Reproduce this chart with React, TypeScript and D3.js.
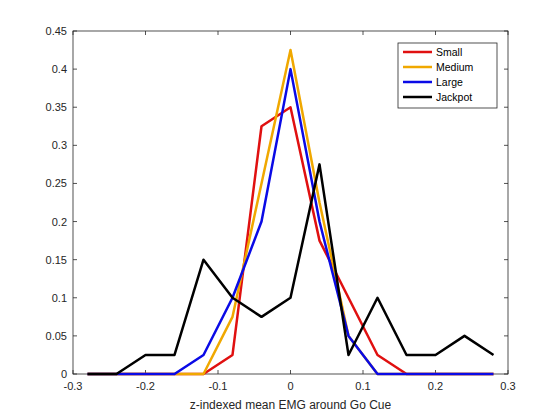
import React from "react";
import * as d3 from "d3";

const xs = [-0.28,-0.24,-0.2,-0.16,-0.12,-0.08,-0.04,0,0.04,0.08,0.12,0.16,0.2,0.24,0.28];
const small = [0,0,0,0,0,0.025,0.325,0.35,0.175,0.1,0.025,0,0,0,0];
const medium = [0,0,0,0,0,0.075,0.25,0.425,0.225,0.05,0,0,0,0,0];
const large = [0,0,0,0,0.025,0.1,0.2,0.4,0.2,0.05,0,0,0,0,0];
const jackpot = [0,0,0.025,0.025,0.15,0.1,0.075,0.1,0.275,0.025,0.1,0.025,0.025,0.05,0.025];
const names = ["Small","Medium","Large","Jackpot"];
const colors = ["#e01010","#f0a800","#0a0ae6","#000000"];
const xTicks = [-0.3,-0.2,-0.1,0,0.1,0.2,0.3];
const yTicks = [0,0.05,0.1,0.15,0.2,0.25,0.3,0.35,0.4,0.45];

export default function App() {
  const L=73,R=508,T=31,B=374;
  const x = d3.scaleLinear().domain([-0.3,0.3]).range([L,R]);
  const y = d3.scaleLinear().domain([0,0.45]).range([B,T]);
  const series=[small,medium,large,jackpot];
  const line = d3.line<number>().x((_,i)=>x(xs[i])).y(d=>y(d));
  const f = {fontFamily:"Liberation Sans, Arial, sans-serif", fontSize:11, fill:"#262626"};
  return (
    <svg width={560} height={420} style={{position:"absolute",left:0,top:0,background:"#fff"}}>
      <rect x={0} y={0} width={560} height={420} fill="#fff"/>
      <rect x={L} y={T} width={R-L} height={B-T} fill="#fff" stroke="#262626" strokeWidth={0.8}/>
      {xTicks.map(t=>(
        <g key={t}>
          <line x1={x(t)} x2={x(t)} y1={B} y2={B-4} stroke="#262626" strokeWidth={0.8}/>
          <line x1={x(t)} x2={x(t)} y1={T} y2={T+4} stroke="#262626" strokeWidth={0.8}/>
          <text x={x(t)} y={B+16} textAnchor="middle" {...f}>{t===0?"0":String(t)}</text>
        </g>
      ))}
      {yTicks.map(t=>(
        <g key={t}>
          <line x1={L} x2={L+4} y1={y(t)} y2={y(t)} stroke="#262626" strokeWidth={0.8}/>
          <line x1={R} x2={R-4} y1={y(t)} y2={y(t)} stroke="#262626" strokeWidth={0.8}/>
          <text x={L-6} y={y(t)+4} textAnchor="end" {...f}>{t===0?"0":String(t)}</text>
        </g>
      ))}
      {series.map((s,i)=>(
        <path key={i} d={line(s)!} fill="none" stroke={colors[i]} strokeWidth={2.5} strokeLinejoin="round"/>
      ))}
      <text x={(L+R)/2} y={B+35} textAnchor="middle" {...f} fontSize={12}>z-indexed mean EMG around Go Cue</text>
      <rect x={398} y={43} width={99} height={65} fill="#fff" stroke="#262626" strokeWidth={0.8}/>
      {names.map((n,i)=>(
        <g key={n}>
          <line x1={403} x2={432} y1={52+i*15} y2={52+i*15} stroke={colors[i]} strokeWidth={2.5}/>
          <text x={436} y={56+i*15} {...f} fontSize={10.5} fill="#000">{n}</text>
        </g>
      ))}
    </svg>
  );
}
